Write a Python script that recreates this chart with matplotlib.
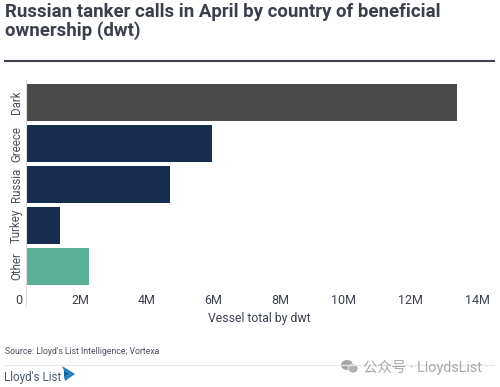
import matplotlib
matplotlib.use('Agg')
import matplotlib.pyplot as plt
from matplotlib.patches import Polygon, Ellipse
from matplotlib.transforms import ScaledTranslation

plt.rcParams['font.family'] = ['Roboto', 'Noto Sans CJK SC', 'DejaVu Sans']

categories = ['Dark', 'Greece', 'Russia', 'Turkey', 'Other']
values = [13.0, 5.62, 4.35, 1.02, 1.9]
colors = ['#4a4a4a', '#162d50', '#162d50', '#162d50', '#5bb197']
ticks = [0, 2, 4, 6, 8, 10, 12, 14]
tick_labels = ['0', '2M', '4M', '6M', '8M', '10M', '12M', '14M']

W, H = 500, 387
fig = plt.figure(figsize=(W / 100, H / 100), dpi=100)
fig.patch.set_facecolor('white')


def fx(x):
    return x / W


def fy(y):
    return 1 - y / H


def shape(points, color):
    fig.add_artist(Polygon([(fx(x), fy(y)) for x, y in points], closed=True,
                           transform=fig.transFigure, facecolor=color, edgecolor='none'))


#%% chart
ax = fig.add_axes([fx(26), fy(287), (490 - 26) / W, 205 / H])
ax.barh(range(len(categories)), values, height=0.9, color=colors)
ax.set_xlim(0, 14)
ax.set_ylim(len(categories) - 0.5, -0.5)
ax.set_yticks(range(len(categories)))
ax.set_yticklabels(categories, rotation=90, va='center', color='#4a4f5c', fontsize=8.3)
ax.set_xticks(ticks)
ax.set_xticklabels(tick_labels, ha='right', color='#3c4150', fontsize=9)
ax.tick_params(axis='both', length=0)
ax.tick_params(axis='x', pad=5)
ax.tick_params(axis='y', pad=2)
# tick labels sit a little left of their position, most at the low end
# (has to come after tick_params, which resets the label transforms)
for t, label in zip(ticks, ax.get_xticklabels()):
    shift = (-4 + 0.29 * t) / 100
    label.set_transform(label.get_transform() + ScaledTranslation(shift, 0, fig.dpi_scale_trans))
for s in ['top', 'right', 'bottom', 'left']:
    ax.spines[s].set_visible(False)
ax.set_xlabel('Vessel total by dwt', fontsize=8.8, color='#3c4150')
ax.xaxis.set_label_coords(0.503, -0.12)

# axis line runs past the plot area
fig.add_artist(plt.Line2D([fx(26), fx(26)], [fy(80), fy(306)], color='#dddddd', lw=0.8))

#%% header
fig.text(fx(5), fy(12), 'Russian tanker calls in April by country of beneficial',
         fontsize=13.4, fontweight='bold', color='#3a3f4b', va='center')
fig.text(fx(5), fy(31), 'ownership (dwt)',
         fontsize=13.4, fontweight='bold', color='#3a3f4b', va='center')
fig.add_artist(plt.Line2D([fx(5), fx(494)], [fy(61), fy(61)], color='#3f4350', lw=1.5))

#%% footer
fig.text(fx(5), fy(352), "Source: Lloyd's List Intelligence; Vortexa", fontsize=6.2,
         color='#4a4f5c', va='center')
fig.add_artist(plt.Line2D([fx(5), fx(494)], [fy(364.5), fy(364.5)], color='#e6e6e6', lw=0.9))
fig.text(fx(4), fy(377), "Lloyd's List", fontsize=8.4, color='#4a5870', va='center')

shape([(62, 366), (75, 374), (65, 381), (64, 377), (70, 374), (64, 370.5)], '#1f7fc0')
shape([(64, 370.5), (70, 374), (64, 377)], '#0f5f9c')

#%% watermark
fig.add_artist(Ellipse((fx(347), fy(365)), 12 / W, 10 / H, transform=fig.transFigure,
                       facecolor='#a5a5a5', edgecolor='none'))
fig.add_artist(Ellipse((fx(353), fy(368.5)), 10 / W, 9 / H, transform=fig.transFigure,
                       facecolor='#b0b0b0', edgecolor='white', lw=0.5))
fig.text(fx(363), fy(367), '公众号 · LloydsList', fontsize=10.4, color='#a8a8a8', va='center')

fig.savefig('out.png', dpi=100)
